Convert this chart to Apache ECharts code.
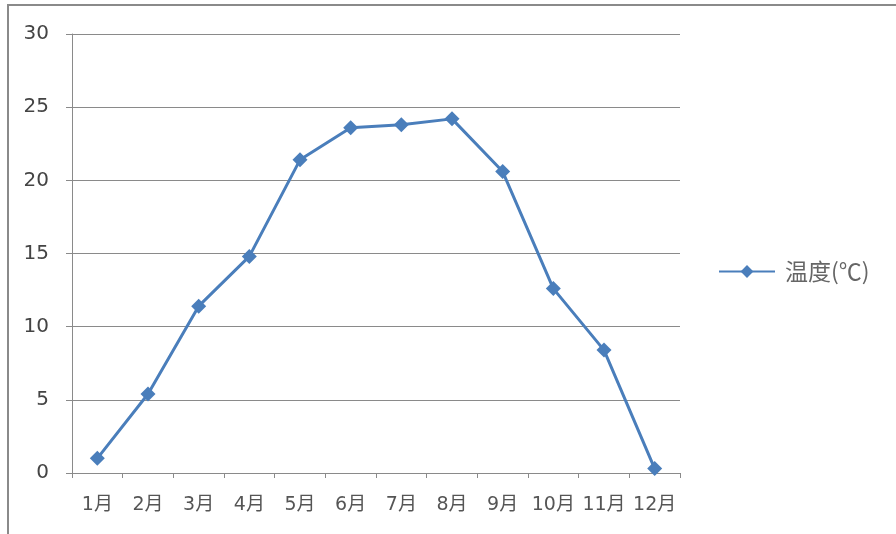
<!DOCTYPE html>
<html lang="zh">
<head>
    <meta charset="UTF-8">
    <title>温度</title>
    <script src="https://cdn.jsdelivr.net/npm/echarts@6/dist/echarts.min.js"></script>
    <style>
        html, body { margin: 0; padding: 0; background: #fff; }
    </style>
</head>
<body>
<div id="container" style="width:896px;height:534px;"></div>
<script>
    // 月份
    var months = ['1月', '2月', '3月', '4月', '5月', '6月', '7月', '8月', '9月', '10月', '11月', '12月'];
    // 温度(℃)
    var temps = [1.0, 5.4, 11.4, 14.8, 21.4, 23.6, 23.8, 24.2, 20.6, 12.6, 8.4, 0.3];
    var seriesName = '温度(℃)';

    var labelFont = '"DejaVu Sans", "Noto Sans CJK SC", sans-serif';
    var myChart = echarts.init(document.getElementById('container'));

    myChart.setOption({
        backgroundColor: '#fff',
        animation: false,
        graphic: [{
            type: 'rect',
            shape: {x: 8, y: 5, width: 1000, height: 600},
            style: {fill: 'none', stroke: '#8a8a8a', lineWidth: 2},
            silent: true
        }],
        grid: {left: 72, right: 216, top: 34, bottom: 61},
        legend: {
            left: 713,
            top: 255,
            itemWidth: 56,
            itemHeight: 16,
            textStyle: {
                color: '#666', fontSize: 23, padding: [0, 0, 0, 5],
                fontFamily: '"Noto Sans CJK SC", serif'
            },
            data: [seriesName]
        },
        xAxis: {
            type: 'category',
            data: months,
            boundaryGap: true,
            axisLine: {lineStyle: {color: '#8a8a8a', width: 1}},
            axisTick: {show: true, interval: 0, length: 5, lineStyle: {color: '#8a8a8a'}},
            axisLabel: {
                interval: 0, hideOverlap: false,
                color: '#555', fontSize: 19, margin: 23, fontFamily: labelFont
            }
        },
        yAxis: {
            type: 'value',
            min: 0,
            max: 30,
            interval: 5,
            axisLine: {show: true, lineStyle: {color: '#8a8a8a', width: 1}},
            axisTick: {show: true, length: 6, lineStyle: {color: '#8a8a8a'}},
            axisLabel: {color: '#444', fontSize: 20, margin: 23, fontFamily: labelFont},
            splitLine: {lineStyle: {color: '#8a8a8a', width: 1}}
        },
        series: [{
            name: seriesName,
            type: 'line',
            data: temps,
            symbol: 'diamond',
            symbolSize: 15,
            itemStyle: {color: '#4a7ebb'},
            lineStyle: {color: '#4a7ebb', width: 3}
        }]
    });
</script>
</body>
</html>
